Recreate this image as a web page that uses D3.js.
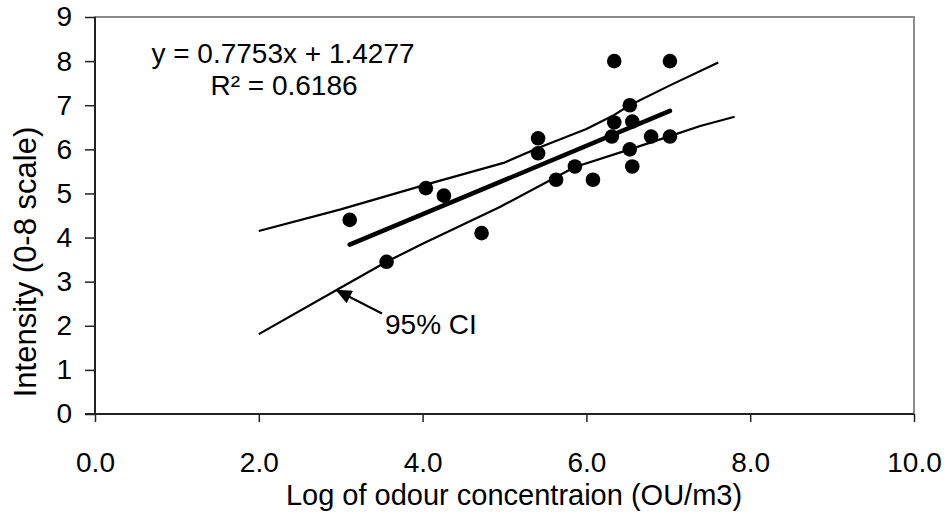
<!DOCTYPE html>
<html>
<head>
<meta charset="utf-8">
<script src="https://cdn.jsdelivr.net/npm/d3@7"></script>
<style>
  html, body { margin: 0; padding: 0; background: #fff; }
  svg { display: block; font-family: "Liberation Sans", Arial, sans-serif; }
</style>
</head>
<body>
<svg id="chart" width="947" height="513"></svg>
<script>
// ---- data ----
const xTicks = [0, 2, 4, 6, 8, 10];
const yTicks = [0, 1, 2, 3, 4, 5, 6, 7, 8, 9];
const pointsX = [3.11, 3.56, 4.04, 4.26, 4.72, 5.41, 5.41, 5.63, 5.86, 6.08, 6.34, 7.02, 6.53, 6.34, 6.56, 6.31, 6.79, 7.02, 6.53, 6.56];
const pointsY = [4.40, 3.45, 5.12, 4.95, 4.10, 6.25, 5.91, 5.31, 5.61, 5.31, 8.00, 8.00, 7.00, 6.61, 6.63, 6.29, 6.29, 6.29, 6.00, 5.61];
const slope = 0.7753, intercept = 1.4277;
const upperCI = [[2.0, 4.15], [3.0, 4.64], [4.04, 5.20], [5.0, 5.70], [5.41, 6.03], [6.0, 6.46], [6.34, 6.78], [6.53, 7.00], [7.02, 7.45], [7.61, 7.97]];
const lowerCI = [[2.0, 1.81], [2.95, 2.81], [3.56, 3.45], [4.0, 3.86], [4.95, 4.70], [5.86, 5.60], [6.53, 6.00], [7.02, 6.30], [7.39, 6.53], [7.81, 6.74]];
const eqText = "y = 0.7753x + 1.4277";
const r2Text = "R\u00B2 = 0.6186";
const ciLabel = "95% CI";
const xTitle = "Log of odour concentraion (OU/m3)";
const yTitle = "Intensity (0-8 scale)";

// ---- layout ----
const L = 95, R = 914, T = 17, B = 414;
const svg = d3.select("#chart");
const x = d3.scaleLinear().domain([0, 10]).range([L, R]);
const y = d3.scaleLinear().domain([0, 9]).range([B, T]);

// plot border (top/right gray)
svg.append("rect").attr("x", L).attr("y", T).attr("width", R - L).attr("height", B - T)
  .attr("fill", "#fff").attr("stroke", "#8c8c8c").attr("stroke-width", 2);

// axes
const yAxis = svg.append("g").attr("transform", `translate(${L},0)`)
  .call(d3.axisLeft(y).tickValues(yTicks).tickSize(10).tickPadding(13).tickFormat(d3.format("d")));
const xAxis = svg.append("g").attr("transform", `translate(0,${B})`)
  .call(d3.axisBottom(x).tickValues(xTicks).tickSize(8).tickPadding(30).tickFormat(d3.format(".1f")));
[yAxis, xAxis].forEach(g => {
  g.select(".domain").attr("stroke", "#222").attr("stroke-width", 2);
  g.selectAll(".tick line").attr("stroke", "#222").attr("stroke-width", 1.5);
  g.selectAll(".tick text").attr("fill", "#000").style("font-size", "28px")
    .style("font-family", '"Liberation Sans", Arial, sans-serif');
});
yAxis.select(".domain").attr("d", `M-10,${B}H0V${T}`);
xAxis.select(".domain").attr("d", `M${L},0H${R}`);

// CI curves
const line = d3.line().x(d => x(d[0])).y(d => y(d[1]));
[upperCI, lowerCI].forEach(c => {
  svg.append("path").attr("d", line(c)).attr("fill", "none")
    .attr("stroke", "#000").attr("stroke-width", 2.2).attr("stroke-linejoin", "round");
});

// regression line
const xmin = d3.min(pointsX), xmax = d3.max(pointsX);
svg.append("path")
  .attr("d", line([[xmin, slope * xmin + intercept], [xmax, slope * xmax + intercept]]))
  .attr("stroke", "#000").attr("stroke-width", 4.5).attr("stroke-linecap", "round").attr("fill", "none");

// points
svg.append("g").selectAll("circle").data(pointsX.map((v, i) => [v, pointsY[i]])).join("circle")
  .attr("cx", d => x(d[0])).attr("cy", d => y(d[1])).attr("r", 7.3).attr("fill", "#000");

// equation
svg.append("text").attr("x", 283).attr("y", 63).attr("text-anchor", "middle")
  .style("font-size", "28px").text(eqText);
svg.append("text").attr("x", 284).attr("y", 95).attr("text-anchor", "middle")
  .style("font-size", "28px").text(r2Text);

// 95% CI label and arrow
svg.append("defs").append("marker").attr("id", "ah").attr("viewBox", "0 0 10 10")
  .attr("refX", 9).attr("refY", 5).attr("markerWidth", 16).attr("markerHeight", 14)
  .attr("markerUnits", "userSpaceOnUse").attr("orient", "auto").attr("preserveAspectRatio", "none")
  .append("path").attr("d", "M0,0L10,5L0,10Z").attr("fill", "#000");
svg.append("line").attr("x1", 382).attr("y1", 313.5).attr("x2", 337).attr("y2", 290.5)
  .attr("stroke", "#000").attr("stroke-width", 2).attr("marker-end", "url(#ah)");
svg.append("text").attr("x", 385).attr("y", 334).style("font-size", "28px").text(ciLabel);

// axis titles
svg.append("text").attr("x", 514).attr("y", 505).attr("text-anchor", "middle")
  .style("font-size", "29px").text(xTitle);
svg.append("text").attr("transform", "translate(36,262) rotate(-90)").attr("text-anchor", "middle")
  .style("font-size", "31px").text(yTitle);
</script>
</body>
</html>
